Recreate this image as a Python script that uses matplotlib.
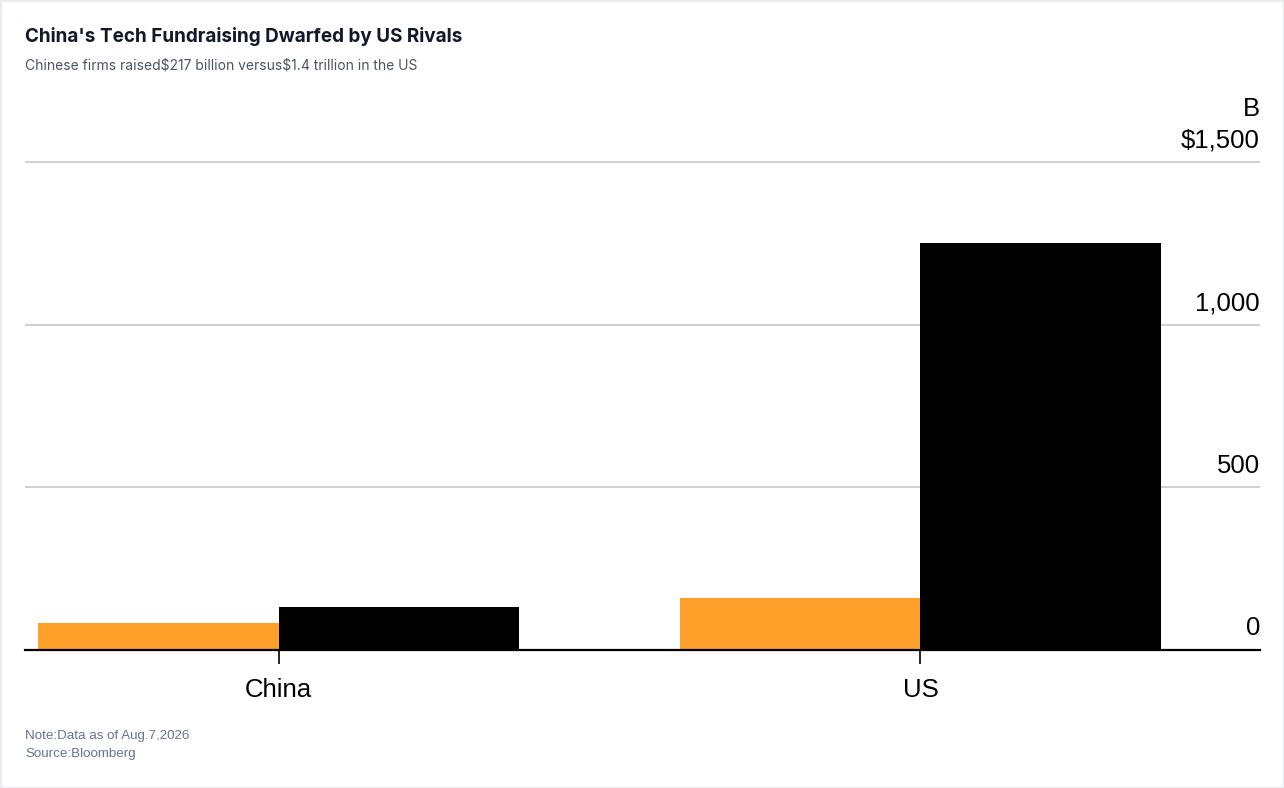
import matplotlib
matplotlib.use("Agg")
import matplotlib.pyplot as plt
import matplotlib.transforms as mtransforms
from matplotlib.patches import Rectangle
import numpy as np

plt.rcParams["text.parse_math"] = False

# data (billions of USD)
categories = ["China", "US"]
series_a = [84, 159]     # orange
series_b = [131, 1250]   # black
y_ticks = [0, 500, 1000, 1500]
y_tick_labels = ["0", "500", "1,000", "$1,500"]
unit_label = "B"

TITLE = "China's Tech Fundraising Dwarfed by US Rivals"
SUBTITLE = "Chinese firms raised$217 billion versus$1.4 trillion in the US"
NOTE = "Note:Data as of Aug.7,2026"
SOURCE = "Source:Bloomberg"

ORANGE = "#FFA02B"
BLACK = "#000000"

fig = plt.figure(figsize=(12.84, 7.88), dpi=100)
fig.patch.set_facecolor("white")
fig.patches.append(Rectangle((0, 0), 1, 1, transform=fig.transFigure,
                             fill=False, edgecolor="#e9edf2", lw=2.5))

ax = fig.add_axes([25 / 1284, 1 - 650 / 788, 1235 / 1284, 494.6 / 788])

x = np.arange(len(categories))
w = 0.3746
ax.bar(x - w / 2, series_a, width=w, color=ORANGE, zorder=2)
ax.bar(x + w / 2, series_b, width=w, color=BLACK, zorder=2)

ax.set_xlim(-0.395, 1.529)
ax.set_ylim(0, 1520)

# grid
ax.set_yticks(y_ticks[1:])
ax.yaxis.grid(True, color="#cccccc", lw=1.3, zorder=0)
ax.tick_params(axis="y", length=0, labelleft=False)
for s in ["left", "right", "top"]:
    ax.spines[s].set_visible(False)
ax.spines["bottom"].set_color("black")
ax.spines["bottom"].set_linewidth(1.6)
ax.spines["bottom"].set_zorder(3)

# y labels sit above the gridlines, right aligned
trans = mtransforms.blended_transform_factory(ax.transAxes, ax.transData)
trans = mtransforms.offset_copy(trans, fig=fig, y=10.5, units="points")
for v, lab in zip(y_ticks, y_tick_labels):
    ax.text(1.0, v, lab, transform=trans, ha="right", va="baseline",
            fontsize=18.5, family="Liberation Sans", color="black")
trans_b = mtransforms.offset_copy(trans, fig=fig, y=22.5, units="points")
ax.text(1.0, 1500, unit_label, transform=trans_b, ha="right", va="baseline",
        fontsize=18.5, family="Liberation Sans", color="black")

ax.set_xticks(x)
ax.set_xticklabels(categories, fontsize=18.5, family="Liberation Sans")
ax.tick_params(axis="x", length=10, width=1.2, color="black", pad=10)

fig.text(25 / 1284, 1 - 42.5 / 788, TITLE, fontsize=13.6, fontweight="bold",
         family="Inter", color="#111827", va="baseline")
fig.text(25 / 1284, 1 - 69.5 / 788, SUBTITLE, fontsize=10, family="Inter",
         color="#4b5563", va="baseline")
fig.text(25 / 1284, 1 - 739 / 788, NOTE, fontsize=9.6, family="Liberation Sans",
         color="#64748b", va="baseline")
fig.text(25 / 1284, 1 - 757 / 788, SOURCE, fontsize=9.6, family="Liberation Sans",
         color="#64748b", va="baseline")

fig.savefig("out.png", dpi=100)
